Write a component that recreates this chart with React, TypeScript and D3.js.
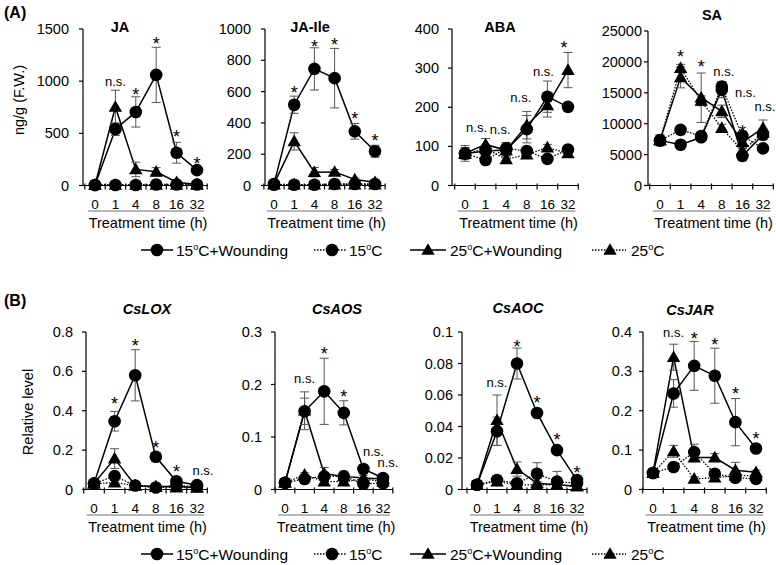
import React from 'react';
import * as d3 from 'd3';

// ---------- categories ----------
const hours = ['0', '1', '4', '8', '16', '32'];
const legendLabels = ['15', '15', '25', '25'];
const legendSuffix = ['C+Wounding', 'C', 'C+Wounding', 'C'];

// ---------- (A) hormones, ng/g F.W. ----------
const jaW15 = [5, 540, 705, 1060, 314, 147];
const jaW15Err = [5, 60, 145, 265, 100, 15];
const jaC15 = [5, 5, 5, 10, 10, 10];
const jaC15Err = [0, 0, 0, 0, 0, 0];
const jaW25 = [5, 753, 154, 131, 32, 10];
const jaW25Err = [5, 160, 70, 40, 15, 5];
const jaC25 = [5, 5, 5, 5, 5, 5];
const jaC25Err = [0, 0, 0, 0, 0, 0];

const ileW15 = [10, 516, 745, 686, 346, 219];
const ileW15Err = [5, 55, 135, 190, 50, 38];
const ileC15 = [5, 5, 5, 10, 10, 10];
const ileC15Err = [0, 0, 0, 0, 0, 0];
const ileW25 = [10, 282, 85, 87, 38, 21];
const ileW25Err = [5, 55, 30, 15, 10, 5];
const ileC25 = [5, 5, 5, 5, 5, 5];
const ileC25Err = [0, 0, 0, 0, 0, 0];

const abaW15 = [82, 88, 91, 144, 227, 201];
const abaW15Err = [20, 10, 15, 35, 40, 10];
const abaC15 = [82, 65, 95, 88, 68, 92];
const abaC15Err = [10, 8, 8, 8, 8, 8];
const abaW25 = [82, 105, 90, 154, 205, 295];
const abaW25Err = [15, 15, 20, 35, 30, 45];
const abaC25 = [80, 95, 67, 79, 97, 82];
const abaC25Err = [10, 8, 8, 8, 8, 8];

const saW15 = [7300, 6600, 7800, 15500, 4800, 8200];
const saW15Err = [900, 500, 500, 1300, 800, 800];
const saC15 = [7300, 9000, 8000, 16000, 8000, 6000];
const saC15Err = [500, 700, 500, 800, 800, 500];
const saW25 = [7300, 17500, 14200, 12000, 7000, 9300];
const saW25Err = [800, 1700, 4000, 1000, 1000, 1300];
const saC25 = [7300, 19000, 13700, 9300, 5600, 8500];
const saC25Err = [500, 600, 800, 600, 600, 600];

// ---------- (B) gene expression, relative level ----------
const loxW15 = [0.03, 0.347, 0.58, 0.166, 0.042, 0.022];
const loxW15Err = [0.005, 0.05, 0.13, 0.01, 0.01, 0.005];
const loxC15 = [0.03, 0.068, 0.02, 0.01, 0.02, 0.015];
const loxC15Err = [0.005, 0.02, 0.005, 0.005, 0.005, 0.005];
const loxW25 = [0.03, 0.157, 0.02, 0.015, 0.015, 0.01];
const loxW25Err = [0.005, 0.05, 0.01, 0.005, 0.005, 0.005];
const loxC25 = [0.03, 0.035, 0.02, 0.012, 0.01, 0.01];
const loxC25Err = [0.005, 0.01, 0.005, 0.005, 0.005, 0.005];

const aosW15 = [0.013, 0.149, 0.187, 0.146, 0.039, 0.022];
const aosW15Err = [0.003, 0.025, 0.063, 0.023, 0.005, 0.004];
const aosC15 = [0.013, 0.02, 0.025, 0.025, 0.011, 0.012];
const aosC15Err = [0.002, 0.005, 0.005, 0.005, 0.003, 0.003];
const aosW25 = [0.013, 0.15, 0.03, 0.025, 0.022, 0.02];
const aosW25Err = [0.003, 0.036, 0.012, 0.01, 0.005, 0.004];
const aosC25 = [0.013, 0.028, 0.015, 0.015, 0.02, 0.015];
const aosC25Err = [0.002, 0.004, 0.003, 0.003, 0.003, 0.003];

const aocW15 = [0.003, 0.037, 0.08, 0.0486, 0.025, 0.006];
const aocW15Err = [0.0005, 0.009, 0.0098, 0.002, 0.0025, 0.002];
const aocC15 = [0.003, 0.006, 0.004, 0.01, 0.005, 0.004];
const aocC15Err = [0.0005, 0.001, 0.001, 0.007, 0.0065, 0.001];
const aocW25 = [0.003, 0.044, 0.013, 0.004, 0.003, 0.002];
const aocW25Err = [0.0005, 0.016, 0.0045, 0.001, 0.001, 0.001];
const aocC25 = [0.003, 0.005, 0.003, 0.003, 0.003, 0.002];
const aocC25Err = [0.0005, 0.001, 0.001, 0.001, 0.001, 0.001];

const jarW15 = [0.042, 0.244, 0.314, 0.289, 0.171, 0.104];
const jarW15Err = [0.005, 0.035, 0.062, 0.07, 0.06, 0.005];
const jarC15 = [0.042, 0.057, 0.095, 0.04, 0.03, 0.027];
const jarC15Err = [0.005, 0.005, 0.02, 0.005, 0.005, 0.005];
const jarW25 = [0.042, 0.336, 0.081, 0.081, 0.049, 0.044];
const jarW25Err = [0.005, 0.033, 0.01, 0.01, 0.02, 0.005];
const jarC25 = [0.042, 0.097, 0.027, 0.03, 0.035, 0.035];
const jarC25Err = [0.005, 0.015, 0.005, 0.005, 0.005, 0.005];

// ---------- significance labels: category index, text, value (visual centre) ----------
type Mark = { i: number; t: string; v: number; dx?: number };
const jaMarks: Mark[] = [
  { i: 1, t: 'n.s.', v: 987 }, { i: 2, t: '*', v: 907 }, { i: 3, t: '*', v: 1394 },
  { i: 4, t: '*', v: 506 }, { i: 5, t: '*', v: 240 },
];
const ileMarks: Mark[] = [
  { i: 1, t: '*', v: 616 }, { i: 2, t: '*', v: 913 }, { i: 3, t: '*', v: 926 },
  { i: 4, t: '*', v: 452 }, { i: 5, t: '*', v: 308 },
];
const abaMarks: Mark[] = [
  { i: 1, t: 'n.s.', v: 146, dx: -9 }, { i: 2, t: 'n.s.', v: 141, dx: -6 },
  { i: 3, t: 'n.s.', v: 223, dx: -6 }, { i: 4, t: 'n.s.', v: 289, dx: -4 }, { i: 5, t: '*', v: 361, dx: -4 },
];
const saMarks: Mark[] = [
  { i: 1, t: '*', v: 21400 }, { i: 2, t: '*', v: 19800 }, { i: 3, t: 'n.s.', v: 18300, dx: 2 },
  { i: 4, t: 'n.s.', v: 14950, dx: 3 }, { i: 4, t: '*', v: 9300 }, { i: 5, t: 'n.s.', v: 12690, dx: 2 },
];
const loxMarks: Mark[] = [
  { i: 1, t: '*', v: 0.453 }, { i: 2, t: '*', v: 0.75 }, { i: 3, t: '*', v: 0.233 },
  { i: 4, t: '*', v: 0.107 }, { i: 5, t: 'n.s.', v: 0.09, dx: 6 },
];
const aosMarks: Mark[] = [
  { i: 1, t: 'n.s.', v: 0.21 }, { i: 2, t: '*', v: 0.265 }, { i: 3, t: '*', v: 0.184 },
  { i: 4, t: 'n.s.', v: 0.07, dx: 10 }, { i: 5, t: 'n.s.', v: 0.049, dx: 5 },
];
const aocMarks: Mark[] = [
  { i: 1, t: 'n.s.', v: 0.0672 }, { i: 2, t: '*', v: 0.093 }, { i: 3, t: '*', v: 0.0577 },
  { i: 4, t: '*', v: 0.0338 }, { i: 5, t: '*', v: 0.0133 },
];
const jarMarks: Mark[] = [
  { i: 1, t: 'n.s.', v: 0.397 }, { i: 2, t: '*', v: 0.393 }, { i: 3, t: '*', v: 0.378 },
  { i: 4, t: '*', v: 0.252 }, { i: 5, t: '*', v: 0.139 },
];

// ---------- axis ticks ----------
const jaTicks = [0, 500, 1000, 1500];
const ileTicks = [0, 200, 400, 600, 800, 1000];
const abaTicks = [0, 100, 200, 300, 400];
const saTicks = [0, 5000, 10000, 15000, 20000, 25000];
const loxTicks = [0, 0.2, 0.4, 0.6, 0.8];
const aosTicks = [0, 0.1, 0.2, 0.3];
const aocTicks = [0, 0.02, 0.04, 0.06, 0.08, 0.1];
const jarTicks = [0, 0.1, 0.2, 0.3, 0.4];

const FONT = '"Liberation Sans", Arial, Helvetica, sans-serif';

type Series = { vals: number[]; err: number[]; tri: boolean; dotted: boolean };
const mk = (w15: number[], w15e: number[], c15: number[], c15e: number[], w25: number[], w25e: number[], c25: number[], c25e: number[]): Series[] => [
  { vals: w15, err: w15e, tri: false, dotted: false },
  { vals: c15, err: c15e, tri: false, dotted: true },
  { vals: w25, err: w25e, tri: true, dotted: false },
  { vals: c25, err: c25e, tri: true, dotted: true },
];

type Cfg = {
  title: string; italic: boolean; axisX: number; x0: number; x5: number; top: number; bottom: number;
  yMax: number; ticks: number[]; gap: number; titleX: number; titleY: number; series: Series[]; marks: Mark[];
};

const A_TOP = 29, A_BOT = 185.5, B_TOP = 332, B_BOT = 489.5;

const panels: Cfg[] = [
  { title: 'JA', italic: false, axisX: 83, x0: 95, x5: 197, top: A_TOP, bottom: A_BOT, yMax: 1500, ticks: jaTicks, gap: 14, titleX: 120, titleY: 27, series: mk(jaW15, jaW15Err, jaC15, jaC15Err, jaW25, jaW25Err, jaC25, jaC25Err), marks: jaMarks },
  { title: 'JA-Ile', italic: false, axisX: 265, x0: 274, x5: 375, top: A_TOP, bottom: A_BOT, yMax: 1000, ticks: ileTicks, gap: 14, titleX: 310, titleY: 27, series: mk(ileW15, ileW15Err, ileC15, ileC15Err, ileW25, ileW25Err, ileC25, ileC25Err), marks: ileMarks },
  { title: 'ABA', italic: false, axisX: 452, x0: 465, x5: 568, top: A_TOP, bottom: A_BOT, yMax: 400, ticks: abaTicks, gap: 13, titleX: 500, titleY: 27, series: mk(abaW15, abaW15Err, abaC15, abaC15Err, abaW25, abaW25Err, abaC25, abaC25Err), marks: abaMarks },
  { title: 'SA', italic: false, axisX: 648, x0: 660, x5: 763, top: A_TOP + 2, bottom: A_BOT, yMax: 25000, ticks: saTicks, gap: 6, titleX: 712, titleY: 15, series: mk(saW15, saW15Err, saC15, saC15Err, saW25, saW25Err, saC25, saC25Err), marks: saMarks },
  { title: 'CsLOX', italic: true, axisX: 86, x0: 94, x5: 197, top: B_TOP, bottom: B_BOT, yMax: 0.8, ticks: loxTicks, gap: 13, titleX: 147, titleY: 309, series: mk(loxW15, loxW15Err, loxC15, loxC15Err, loxW25, loxW25Err, loxC25, loxC25Err), marks: loxMarks },
  { title: 'CsAOS', italic: true, axisX: 275, x0: 285, x5: 383, top: B_TOP, bottom: B_BOT, yMax: 0.3, ticks: aosTicks, gap: 13, titleX: 337, titleY: 309, series: mk(aosW15, aosW15Err, aosC15, aosC15Err, aosW25, aosW25Err, aosC25, aosC25Err), marks: aosMarks },
  { title: 'CsAOC', italic: true, axisX: 462, x0: 477, x5: 577, top: B_TOP, bottom: B_BOT, yMax: 0.1, ticks: aocTicks, gap: 9, titleX: 518, titleY: 308, series: mk(aocW15, aocW15Err, aocC15, aocC15Err, aocW25, aocW25Err, aocC25, aocC25Err), marks: aocMarks },
  { title: 'CsJAR', italic: true, axisX: 643, x0: 653, x5: 756, top: B_TOP, bottom: B_BOT, yMax: 0.4, ticks: jarTicks, gap: 11, titleX: 690, titleY: 310, series: mk(jarW15, jarW15Err, jarC15, jarC15Err, jarW25, jarW25Err, jarC25, jarC25Err), marks: jarMarks },
];

const triPath = d3.symbol().type(d3.symbolTriangle).size(78)() as string;
const R = 6.3;

function Marker({ tri, cx, cy }: { tri: boolean; cx: number; cy: number }) {
  return tri
    ? <path d={triPath} transform={`translate(${cx},${cy + 1})`} fill="#000" />
    : <circle cx={cx} cy={cy} r={R} fill="#000" />;
}

function Panel({ c }: { c: Cfg }) {
  const x = d3.scalePoint<string>().domain(hours).range([c.x0, c.x5]);
  const step = (c.x5 - c.x0) / (hours.length - 1);
  const y = d3.scaleLinear().domain([0, c.yMax]).range([c.bottom, c.top]);
  const bandStart = c.x0 - step / 2;
  const bandEnd = c.x5 + step / 2;
  const line = d3.line<number>().x((_, i) => x(hours[i]) as number).y((d) => y(d));
  const fmt = (t: number) => (c.yMax < 1 ? String(+t.toFixed(3)) : String(t));
  const boundaries = d3.range(hours.length + 1).map((k) => bandStart + k * step);
  const drawOrder = [3, 1, 2, 0];
  return (
    <g>
      <text x={c.titleX} y={c.titleY + 5} textAnchor="middle" fontWeight="bold" fontStyle={c.italic ? 'italic' : 'normal'} fontSize={14.5}>{c.title}</text>
      {/* y axis */}
      <line x1={c.axisX} x2={c.axisX} y1={c.top} y2={c.bottom} stroke="#000" strokeWidth={1.2} />
      {c.ticks.map((t) => (
        <g key={t}>
          <line x1={c.axisX - 4} x2={c.axisX} y1={y(t)} y2={y(t)} stroke="#000" strokeWidth={1.2} />
          <text x={c.axisX - c.gap} y={y(t) + 5} textAnchor="end" fontSize={14.5}>{fmt(t)}</text>
        </g>
      ))}
      {/* x axis */}
      <line x1={c.axisX} x2={bandEnd} y1={c.bottom} y2={c.bottom} stroke="#000" strokeWidth={1.2} />
      {boundaries.map((b, k) => (
        <line key={k} x1={b} x2={b} y1={c.bottom - 2} y2={c.bottom + 4} stroke="#000" strokeWidth={1.2} />
      ))}
      {hours.map((h) => (
        <text key={h} x={x(h)} y={c.bottom + 23} textAnchor="middle" fontSize={13.5}>{h}</text>
      ))}
      <line x1={bandStart + 3} x2={bandEnd - 3} y1={c.bottom + 25.5} y2={c.bottom + 25.5} stroke="#a0a0a0" strokeWidth={1.5} />
      <text x={(bandStart + bandEnd) / 2 + 2} y={c.bottom + 42.5} textAnchor="middle" fontSize={14.5}>Treatment time (h)</text>
      {/* lines */}
      {drawOrder.map((si) => {
        const s = c.series[si];
        return (
          <path key={'l' + si} d={line(s.vals) as string} fill="none" stroke="#000"
            strokeWidth={s.dotted ? 1.3 : 1.5} strokeDasharray={s.dotted ? '1.5,1.5' : undefined} />
        );
      })}
      {/* error bars */}
      {drawOrder.map((si) => {
        const s = c.series[si];
        return s.vals.map((v, i) => {
          const e = s.err[i];
          if (!e) return null;
          const cx = x(hours[i]) as number;
          const y1 = y(v + e);
          const y2 = Math.min(y(v - e), c.bottom);
          return (
            <g key={'e' + si + '-' + i} stroke="#555" strokeWidth={1}>
              <line x1={cx} x2={cx} y1={y1} y2={y2} />
              <line x1={cx - 4.5} x2={cx + 4.5} y1={y1} y2={y1} />
              <line x1={cx - 4.5} x2={cx + 4.5} y1={y2} y2={y2} />
            </g>
          );
        });
      })}
      {/* markers */}
      {drawOrder.map((si) => {
        const s = c.series[si];
        return s.vals.map((v, i) => (
          <Marker key={'m' + si + '-' + i} tri={s.tri} cx={x(hours[i]) as number} cy={y(v)} />
        ));
      })}
      {/* significance */}
      {c.marks.map((m, k) => {
        const cx = (x(hours[m.i]) as number) + (m.dx || 0);
        const cy = y(m.v);
        return m.t === '*'
          ? <text key={'s' + k} x={cx} y={cy + 10} textAnchor="middle" fontSize={18}>*</text>
          : <text key={'s' + k} x={cx} y={cy + 3.5} textAnchor="middle" fontSize={13}>{m.t}</text>;
      })}
    </g>
  );
}

function Legend({ y }: { y: number }) {
  const items = [
    { lx: 141, mx: 157, tx: 176, tri: false, dotted: false, w: 32 },
    { lx: 314, mx: 332, tx: 349, tri: false, dotted: true, w: 33 },
    { lx: 410, mx: 428, tx: 450, tri: true, dotted: false, w: 36 },
    { lx: 592, mx: 610, tx: 631, tri: true, dotted: true, w: 34 },
  ];
  return (
    <g>
      {items.map((it, k) => (
        <g key={k}>
          <line x1={it.lx} x2={it.lx + it.w} y1={y} y2={y} stroke="#000" strokeWidth={it.dotted ? 1.3 : 1.5}
            strokeDasharray={it.dotted ? '1.5,1.5' : undefined} />
          <Marker tri={it.tri} cx={it.mx} cy={y} />
          <text x={it.tx} y={y + 5.5} fontSize={15.5}>
            {legendLabels[k]}
            <tspan fontSize={9} dy={-6}>o</tspan>
            <tspan dy={6}>{legendSuffix[k]}</tspan>
          </text>
        </g>
      ))}
    </g>
  );
}

export default function App() {
  return (
    <svg width={776} height={565} style={{ position: 'absolute', left: 0, top: 0, background: '#fff' }} fontFamily={FONT}>
      <rect width={776} height={565} fill="#fff" />
      <text x={4} y={18} fontWeight="bold" fontSize={16}>(A)</text>
      <text x={4} y={306} fontWeight="bold" fontSize={16}>(B)</text>
      <text transform="translate(24,100) rotate(-90)" textAnchor="middle" fontSize={14.5}>ng/g (F.W.)</text>
      <text transform="translate(33,412) rotate(-90)" textAnchor="middle" fontSize={14.5}>Relative level</text>
      {panels.map((c, k) => <Panel key={k} c={c} />)}
      <Legend y={250} />
      <Legend y={554} />
    </svg>
  );
}
